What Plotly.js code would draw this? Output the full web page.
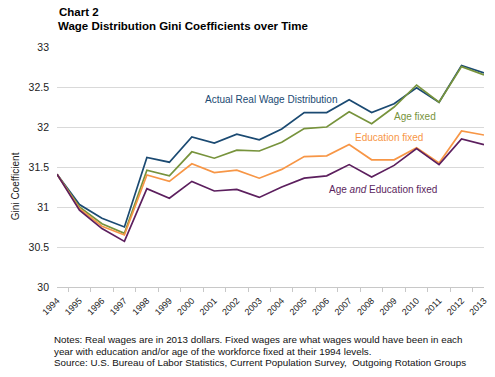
<!DOCTYPE html>
<html>
<head>
<meta charset="utf-8">
<script src="https://cdn.plot.ly/plotly-3.0.1.min.js"></script>
<style>
html,body{margin:0;padding:0;background:#fff;}
#chart{width:495px;height:377px;}
</style>
</head>
<body>
<div id="chart"></div>
<script>
var years = ["1994","1995","1996","1997","1998","1999","2000","2001","2002","2003","2004","2005","2006","2007","2008","2009","2010","2011","2012","2013"];
var actual = [31.41,31.03,30.86,30.75,31.62,31.56,31.875,31.80,31.91,31.84,31.975,32.18,32.18,32.34,32.18,32.29,32.49,32.31,32.77,32.675];
var ageFixed = [31.41,31.00,30.79,30.67,31.46,31.39,31.69,31.61,31.71,31.70,31.81,31.98,32.00,32.19,32.04,32.25,32.525,32.31,32.755,32.65];
var eduFixed = [31.41,30.98,30.76,30.65,31.40,31.32,31.54,31.43,31.46,31.36,31.47,31.63,31.64,31.78,31.59,31.59,31.74,31.55,31.95,31.90];
var ageEduFixed = [31.41,30.96,30.73,30.57,31.23,31.11,31.32,31.20,31.22,31.12,31.25,31.36,31.39,31.53,31.375,31.52,31.73,31.53,31.85,31.78];
var seriesNames = ["Actual Real Wage Distribution","Age fixed","Education fixed","Age <i>and</i> Education fixed"];
var yTitle = "Gini Coefficient";
var chartLabel = "Chart 2";
var chartTitle = "Wage Distribution Gini Coefficients over Time";
var notes = [
  "Notes: Real wages are in 2013 dollars. Fixed wages are what wages would have been in each",
  "year with education and/or age of the workforce fixed at their 1994 levels.",
  "Source: U.S. Bureau of Labor Statistics, Current Population Survey,  Outgoing Rotation Groups"
];

var colors = ["#1b4a72","#77933c","#f79646","#5c1f5e"];
var font = "Liberation Sans, Arial, sans-serif";
var seriesData = [actual, ageFixed, eduFixed, ageEduFixed];

var traces = seriesData.map(function(vals, i){
  return {x: years, y: vals, type: "scatter", mode: "lines", name: seriesNames[i],
          line: {color: colors[i], width: 1.7}, hoverinfo: "x+y"};
});

// plot area pixels
var L = 56.7, R = 484.3, T = 47, B = 287.3, W = 495, H = 377;
function px(x){ return (x - L) / (R - L); }
function py(y){ return (B - y) / (B - T); }

var labelPos = [[203,100],[392,117],[353,138],[327,189.5]];
var annotations = seriesNames.map(function(n, i){
  return {text: n, xref: "paper", yref: "paper", x: px(labelPos[i][0]), y: py(labelPos[i][1]),
          xanchor: "left", yanchor: "middle", showarrow: false,
          font: {family: font, size: 10, color: colors[i]}};
});
annotations.push({text: "<b>" + chartLabel + "</b>", xref: "paper", yref: "paper",
  x: px(58), y: py(12), xanchor: "left", yanchor: "middle", showarrow: false, borderpad: 0,
  font: {family: font, size: 11.5, color: "#000"}});
annotations.push({text: yTitle, xref: "paper", yref: "paper", x: px(15), y: py(186),
  xanchor: "center", yanchor: "middle", textangle: -90, showarrow: false,
  font: {family: font, size: 10, color: "#222"}});
var noteY = [340, 351.5, 363];
notes.forEach(function(t, i){
  annotations.push({text: t, xref: "paper", yref: "paper", x: px(53), y: py(noteY[i]),
    xanchor: "left", yanchor: "middle", showarrow: false, borderpad: 0,
    font: {family: font, size: 9.8, color: "#111"}});
});

var layout = {
  width: W, height: H,
  margin: {l: L, r: W - R, t: T, b: H - B, pad: 0},
  paper_bgcolor: "#fff", plot_bgcolor: "#fff",
  showlegend: false,
  title: {text: "<b>" + chartTitle + "</b>", x: 58 / W, xref: "container", xanchor: "left",
          y: 1 - 26 / H, yref: "container", yanchor: "middle",
          font: {family: font, size: 11.5, color: "#000"}},
  xaxis: {type: "category", showgrid: false, showline: true, linecolor: "#c8c8c8", linewidth: 1,
          ticks: "outside", tickson: "boundaries", ticklen: 4, tickcolor: "#c8c8c8",
          ticklabelstandoff: 4,
          tickangle: -45, tickfont: {family: font, size: 9, color: "#222"}, fixedrange: true,
          zeroline: false},
  yaxis: {range: [30, 33], dtick: 0.5, tick0: 30, showgrid: true, gridcolor: "#d9d9d9", gridwidth: 1,
          showline: false, zeroline: false, ticks: "", ticklabelstandoff: 7,
          tickfont: {family: font, size: 10.5, color: "#222"}, fixedrange: true},
  annotations: annotations
};

Plotly.newPlot("chart", traces, layout, {displayModeBar: false, staticPlot: true});
</script>
</body>
</html>
